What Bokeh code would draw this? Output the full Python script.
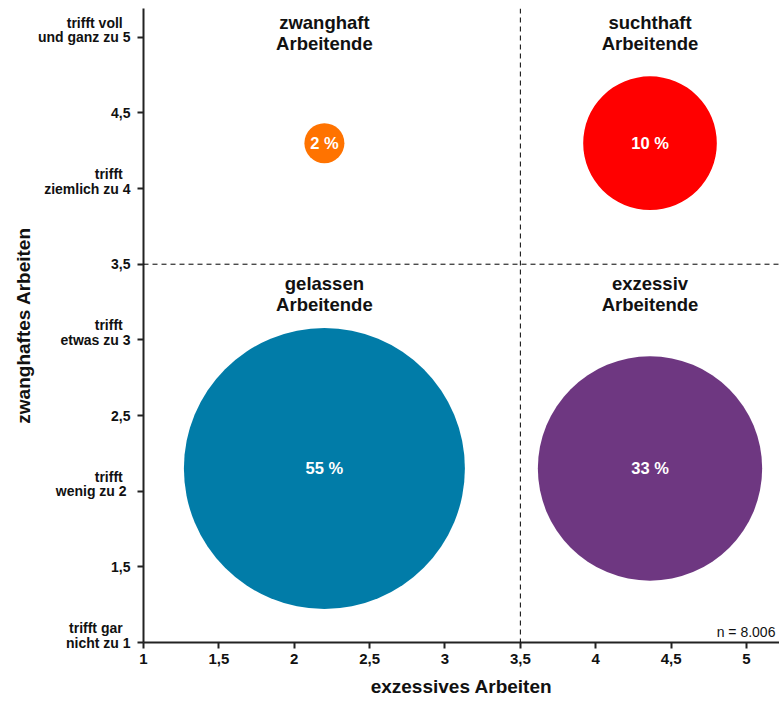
import math
from bokeh.plotting import figure
from bokeh.models import Range1d, FixedTicker, Span, Label, ColumnDataSource
from bokeh.core.properties import value
from bokeh.embed import file_html
from bokeh.resources import INLINE

# ---- data ----
groups = ["zwanghaft\nArbeitende", "suchthaft\nArbeitende", "gelassen\nArbeitende", "exzessiv\nArbeitende"]
excessive = [2.2, 4.36, 2.2, 4.36]          # x: exzessives Arbeiten
compulsive = [4.3, 4.3, 2.15, 2.15]         # y: zwanghaftes Arbeiten
shares = [2, 10, 55, 33]                    # percent of respondents
colors = ["#FF7300", "#FF0000", "#017CA8", "#6E3781"]
tick_values = [1, 1.5, 2, 2.5, 3, 3.5, 4, 4.5, 5]
x_tick_labels = ["1", "1,5", "2", "2,5", "3", "3,5", "4", "4,5", "5"]
y_tick_labels = ["trifft gar  \nnicht zu 1\n", "1,5", "trifft  \nwenig zu  2\n", "2,5",
                 "trifft  \netwas zu 3\n", "3,5", "trifft  \nziemlich zu 4\n", "4,5",
                 "trifft voll  \nund ganz zu 5\n"]
n_note = "n = 8.006"

FONT = "Liberation Sans"
D_MIN, D_MAX = 40, 281
vmin, vmax = min(shares), max(shares)
sizes = [D_MIN + (D_MAX - D_MIN) * math.sqrt((v - vmin) / (vmax - vmin)) for v in shares]
labels = [f"{v} %" for v in shares]

src = ColumnDataSource(dict(x=excessive, y=compulsive, size=sizes, color=colors,
                            label=labels, group=groups))

p = figure(width=779, height=701, x_range=Range1d(1, 5.219), y_range=Range1d(1, 5.19),
           output_backend="svg", toolbar_location=None,
           min_border_left=143, min_border_right=0, min_border_top=8, min_border_bottom=59)
p.outline_line_color = None
p.xgrid.visible = False
p.ygrid.visible = False
p.background_fill_color = "white"
p.border_fill_color = "white"

for ax in (p.xaxis[0], p.yaxis[0]):
    ax.ticker = FixedTicker(ticks=tick_values)
    ax.axis_line_color = "#222222"
    ax.axis_line_width = 2
    ax.major_tick_line_color = "#222222"
    ax.major_tick_line_width = 2
    ax.major_tick_out = 6
    ax.major_tick_in = 0
    ax.minor_tick_line_color = None
    ax.major_label_text_font = FONT
    ax.major_label_text_font_style = "bold"
    ax.major_label_text_font_size = "14px"
    ax.major_label_text_color = "#111111"
    ax.axis_label_text_font = FONT
    ax.axis_label_text_font_style = "bold"
    ax.axis_label_text_font_size = "19px"
    ax.axis_label_text_color = "#111111"

p.xaxis.major_label_overrides = {float(t): l for t, l in zip(tick_values, x_tick_labels)}
p.yaxis.major_label_overrides = {float(t): l for t, l in zip(tick_values, y_tick_labels)}
p.yaxis.major_label_text_line_height = 0.9
p.xaxis.major_label_text_font_size = "15px"
p.xaxis.major_label_standoff = 5
p.yaxis.major_label_standoff = 7
p.xaxis.axis_label = "exzessives Arbeiten"
p.yaxis.axis_label = "zwanghaftes Arbeiten"
p.xaxis.axis_label_standoff = 9
p.yaxis.axis_label_standoff = 1

p.add_layout(Span(location=3.5, dimension="height", line_color="black", line_width=1, line_dash="5 4"))
p.add_layout(Span(location=3.5, dimension="width", line_color="black", line_width=1, line_dash="5 4"))

p.scatter("x", "y", size="size", fill_color="color", line_color=None, source=src)
p.text("x", "y", text="label", source=src, text_color="white", text_font=value(FONT),
       text_font_style="bold", text_font_size="16.5px", text_align="center", text_baseline="middle")

top_src = ColumnDataSource(dict(x=excessive[:2], y=[5.165, 5.165], t=groups[:2]))
bot_src = ColumnDataSource(dict(x=excessive[2:], y=[3.44, 3.44], t=groups[2:]))
for s in (top_src, bot_src):
    p.text("x", "y", text="t", source=s, text_color="#111111", text_font=value(FONT),
           text_font_style="bold", text_font_size="18.5px", text_align="center",
           text_baseline="top", text_line_height=1.0)

p.add_layout(Label(x=5.192, y=1.07, text=n_note, text_font=FONT, text_font_size="14px",
                   text_align="right", text_baseline="alphabetic", text_color="#111111"))

open("out.html", "w").write(file_html(p, INLINE))
